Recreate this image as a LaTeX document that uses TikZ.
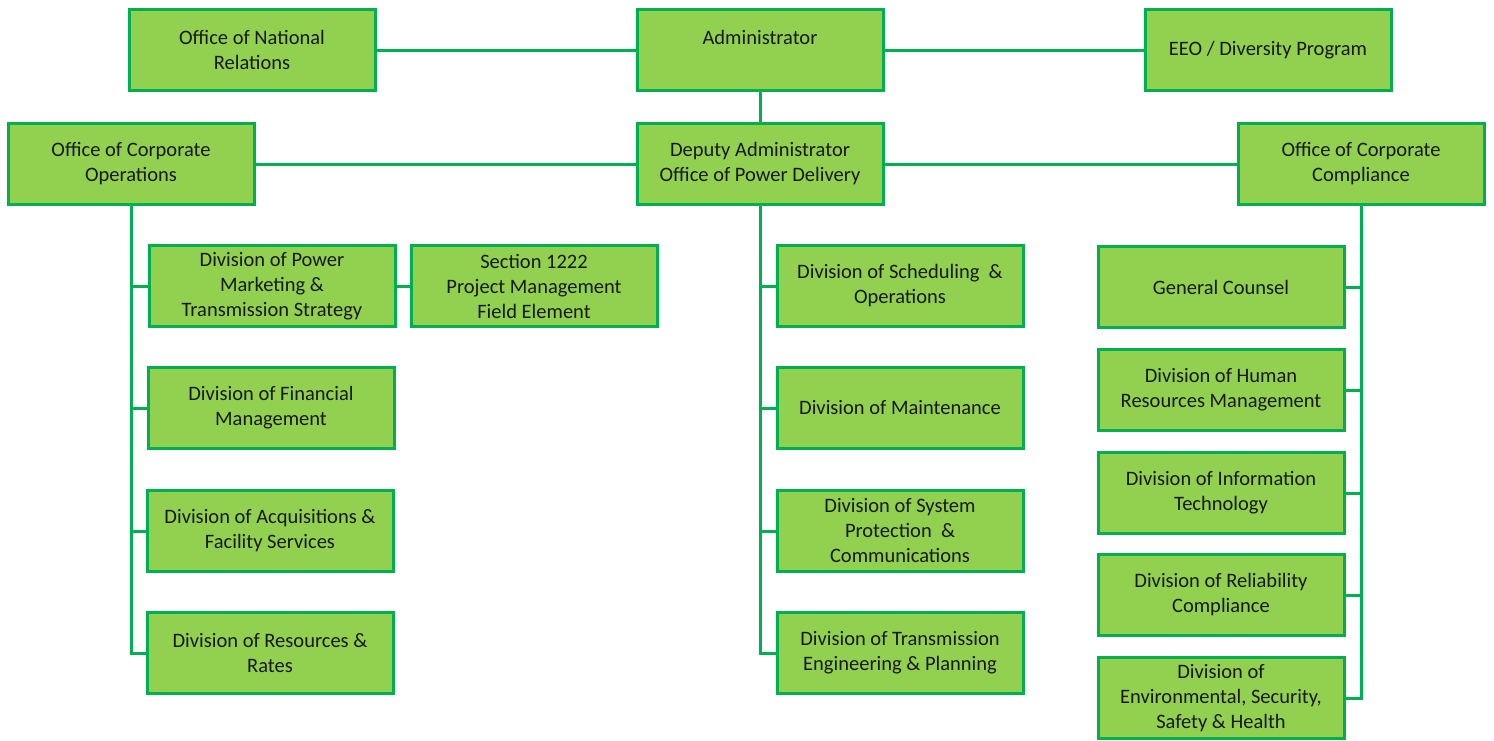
\documentclass[tikz,border=0pt]{standalone}
\usepackage{fontspec}
\setmainfont{Carlito}
\usetikzlibrary{positioning}
\definecolor{boxfill}{HTML}{92D050}
\definecolor{boxborder}{HTML}{00B050}
\definecolor{linkcolor}{HTML}{00B050}

\begin{document}
\begin{tikzpicture}[
    x=1pt, y=-1pt,
    font=\fontsize{20.5}{25}\selectfont,
    unit/.style={draw=boxborder, fill=boxfill, line width=3pt, minimum width=246pt, minimum height=81pt, align=center, inner sep=1pt, text=black!90},
    link/.style={draw=linkcolor, line width=3pt}
]
    \useasboundingbox (0,0) rectangle (1494,740);

    % Top row
    \node[unit] (national) at (252, 50) {Office of National\\Relations};
    \node[unit] (admin) at (760, 50) {Administrator\\\mbox{}};
    \node[unit] (eeo) at (1268, 50) {EEO / Diversity Program};

    % Second row
    \node[unit] (corpops) at (131, 164) {Office of Corporate\\Operations};
    \node[unit] (deputy) at (760, 164) {Deputy Administrator\\Office of Power Delivery};
    \node[unit] (compliance) at (1361, 164) {Office of Corporate\\Compliance};

    % Corporate Operations divisions
    \node[unit] (marketing) at (272, 286) {Division of Power\\Marketing \&\\Transmission Strategy};
    \node[unit] (section) at (534, 286) {Section 1222\\Project Management\\Field Element};
    \node[unit] (finance) at (271, 408) {Division of Financial\\Management};
    \node[unit] (acquisitions) at (270, 531) {Division of Acquisitions \&\\Facility Services};
    \node[unit] (rates) at (270, 653) {Division of Resources \&\\Rates};

    % Power Delivery divisions
    \node[unit] (scheduling) at (900, 286) {Division of Scheduling \ \&\\Operations};
    \node[unit] (maintenance) at (900, 408) {Division of Maintenance};
    \node[unit] (protection) at (900, 531) {Division of System\\Protection \ \&\\Communications};
    \node[unit] (engineering) at (900, 653) {Division of Transmission\\Engineering \& Planning};

    % Corporate Compliance divisions
    \node[unit] (counsel) at (1221, 287) {General Counsel};
    \node[unit] (hr) at (1221, 390) {Division of Human\\Resources Management};
    \node[unit] (it) at (1221, 493) {Division of Information\\Technology};
    \node[unit] (reliability) at (1221, 595) {Division of Reliability\\Compliance};
    \node[unit] (environment) at (1221, 698) {Division of\\Environmental, Security,\\Safety \& Health};

    % Links between offices
    \draw[link] (national) -- (admin);
    \draw[link] (admin) -- (eeo);
    \draw[link] (admin) -- (deputy);
    \draw[link] (corpops) -- (deputy);
    \draw[link] (deputy) -- (compliance);
    \draw[link] (marketing) -- (section);

    % Division trees
    \foreach \child in {marketing, finance, acquisitions, rates}
        \draw[link] (corpops.south) |- (\child.west);
    \foreach \child in {scheduling, maintenance, protection, engineering}
        \draw[link] (deputy.south) |- (\child.west);
    \foreach \child in {counsel, hr, it, reliability, environment}
        \draw[link] (compliance.south) |- (\child.east);

\end{tikzpicture}
\end{document}
